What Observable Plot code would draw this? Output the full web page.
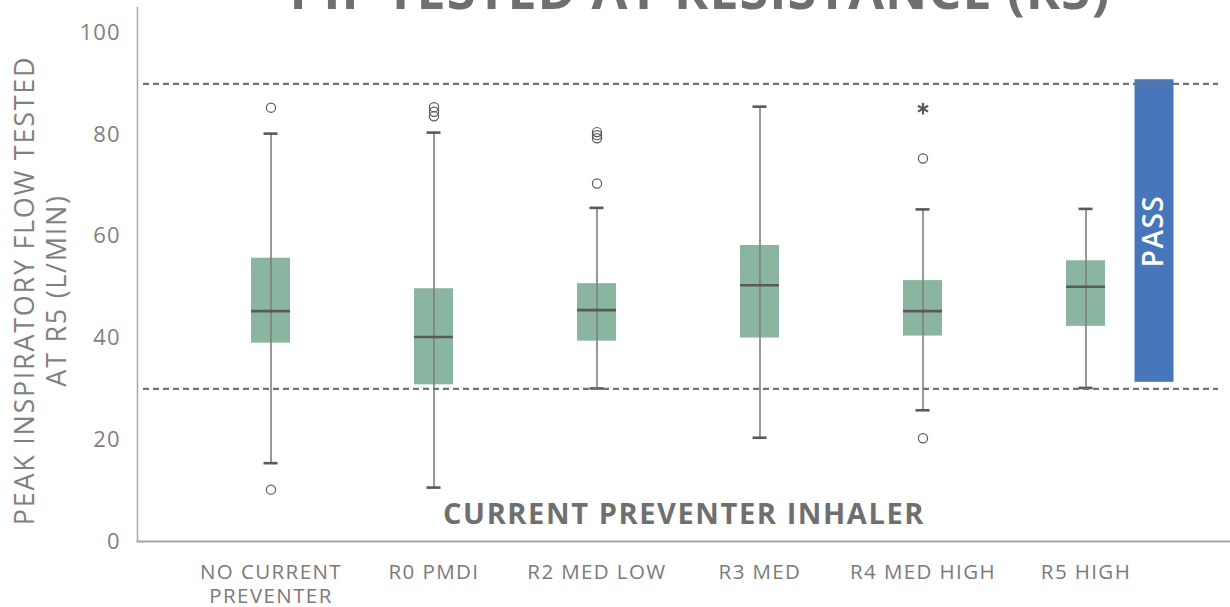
<!DOCTYPE html>
<html>
<head>
<meta charset="utf-8">
<script src="https://cdn.jsdelivr.net/npm/d3@7"></script>
<script src="https://cdn.jsdelivr.net/npm/@observablehq/plot@0.6"></script>
<style>
html, body { margin: 0; padding: 0; background: #fff; }
#wrap { position: relative; width: 1230px; height: 607px; overflow: hidden; }
#title { position: absolute; left: 200px; width: 1000px; top: -37px; text-align: center;
  font-family: "Open Sans"; font-weight: 700; font-size: 52px; line-height: 1; color: #6f6f6f;
  letter-spacing: 1px; white-space: nowrap; }
#chart g[aria-label="x-axis tick label"] text { letter-spacing: 1.4px; }
#chart g[aria-label="y-axis tick label"] text { letter-spacing: 1px; }
#chart g[aria-description="ytitle"] text { letter-spacing: 1.7px; }
#chart g[aria-description="xtitle"] text { letter-spacing: 1.6px; }
#chart g[aria-description="pass"] text { letter-spacing: 1.5px; }
</style>
</head>
<body>
<div id="wrap">
  <div id="chart"></div>
  <div id="title">PIF TESTED AT RESISTANCE (R5)</div>
</div>
<script>
// ---- data ----
const categories = ["NO CURRENT PREVENTER", "R0 PMDI", "R2 MED LOW", "R3 MED", "R4 MED HIGH", "R5 HIGH"];
const tickLabels = ["NO CURRENT\nPREVENTER", "R0 PMDI", "R2 MED LOW", "R3 MED", "R4 MED HIGH", "R5 HIGH"];
const whiskerLow  = [15.4, 10.6, 30.1, 20.4, 25.8, 30.2];
const q1          = [39.0, 30.8, 39.4, 40.0, 40.4, 42.3];
const median      = [45.3, 40.2, 45.5, 50.4, 45.3, 50.1];
const q3          = [55.7, 49.7, 50.7, 58.2, 51.3, 55.2];
const whiskerHigh = [80.2, 80.4, 65.6, 85.5, 65.3, 65.4];
const outlierCategory = ["NO CURRENT PREVENTER", "NO CURRENT PREVENTER", "R0 PMDI", "R0 PMDI", "R0 PMDI",
  "R2 MED LOW", "R2 MED LOW", "R2 MED LOW", "R2 MED LOW", "R4 MED HIGH", "R4 MED HIGH"];
const outlierValue = [85.3, 10.2, 85.4, 84.5, 83.6, 80.5, 79.9, 79.3, 70.4, 75.3, 20.3];
const extremeCategory = ["R4 MED HIGH"];
const extremeValue = [85.1];
const thresholds = [30, 90];
const yTicks = [0, 20, 40, 60, 80, 100];
const passLabel = ["PASS"];
const passAnchor = ["R5 HIGH"];
const passLow = [31.3];
const passHigh = [90.8];
const xTitle = "CURRENT PREVENTER INHALER";
const yTitle = "PEAK INSPIRATORY FLOW TESTED\nAT R5 (L/MIN)";

// ---- tables ----
const boxes = categories.map((c, i) => ({cat: c, lo: whiskerLow[i], q1: q1[i], med: median[i], q3: q3[i], hi: whiskerHigh[i]}));
const outliers = outlierCategory.map((c, i) => ({cat: c, v: outlierValue[i]}));
const extremes = extremeCategory.map((c, i) => ({cat: c, v: extremeValue[i]}));
const pass = passLabel.map((l, i) => ({label: l, cat: passAnchor[i], lo: passLow[i], hi: passHigh[i], mid: (passLow[i] + passHigh[i]) / 2}));

const dark = "#595959";
const chart = Plot.plot({
  width: 1230,
  height: 607,
  marginLeft: 137,
  marginRight: 0,
  marginTop: 7,
  marginBottom: 66,
  style: {fontFamily: "Open Sans", color: "#7f7f7f", background: "white"},
  x: {type: "band", domain: categories, paddingInner: 0.76, paddingOuter: 0.38, insetLeft: 52.5, insetRight: 62.5},
  y: {domain: [0, 105]},
  marks: [
    Plot.axisY({ticks: yTicks, tickSize: 0, tickPadding: 17, fontSize: 22, label: null, fill: "#808080"}),
    Plot.axisX({tickSize: 0, tickPadding: 20, fontSize: 20.5, lineHeight: 1.18, label: null, fill: "#7a7a7a",
      tickFormat: d => tickLabels[categories.indexOf(d)]}),
    Plot.barY(boxes, {x: "cat", y1: "q1", y2: "q3", fill: "#8ab5a0"}),
    Plot.ruleX(boxes, {x: "cat", y1: "lo", y2: "hi", stroke: "#7f7f7f", strokeWidth: 1.6}),
    Plot.tickY(boxes, {x: "cat", y: "med", stroke: dark, strokeWidth: 2.6}),
    Plot.tickY(boxes, {x: "cat", y: "lo", stroke: dark, strokeWidth: 2.6, insetLeft: 12.5, insetRight: 12.5}),
    Plot.tickY(boxes, {x: "cat", y: "hi", stroke: dark, strokeWidth: 2.6, insetLeft: 12.5, insetRight: 12.5}),
    Plot.dot(outliers, {x: "cat", y: "v", r: 4.6, stroke: dark, strokeWidth: 1.2, fill: "none"}),
    Plot.dot(extremes, {x: "cat", y: "v", symbol: "asterisk", r: 5.5, stroke: dark, strokeWidth: 2.2}),
    Plot.barY(pass, {x: "cat", y1: "lo", y2: "hi", dx: 68.5, fill: "#4876ba"}),
    Plot.text(pass, {x: "cat", y: "mid", text: "label", dx: 68.5, rotate: -90, fill: "white",
      fontSize: 28, fontWeight: 600, ariaDescription: "pass"}),
    Plot.ruleY(thresholds, {stroke: "#737373", strokeWidth: 2.2, strokeDasharray: "6 4", insetLeft: 6, insetRight: 12}),
    Plot.frame({anchor: "left", stroke: "#a6a6a6", strokeWidth: 1.5}),
    Plot.frame({anchor: "bottom", stroke: "#a6a6a6", strokeWidth: 2}),
    Plot.text([xTitle], {frameAnchor: "bottom", dy: -18, fontSize: 29, fontWeight: 700, fill: "#6f6f6f", ariaDescription: "xtitle"}),
    Plot.text([yTitle], {frameAnchor: "left", textAnchor: "middle", dx: -98, dy: 16, rotate: -90, fontSize: 27, lineHeight: 1.19,
      fill: "#808080", ariaDescription: "ytitle"})
  ]
});
document.getElementById("chart").appendChild(chart);
</script>
</body>
</html>
